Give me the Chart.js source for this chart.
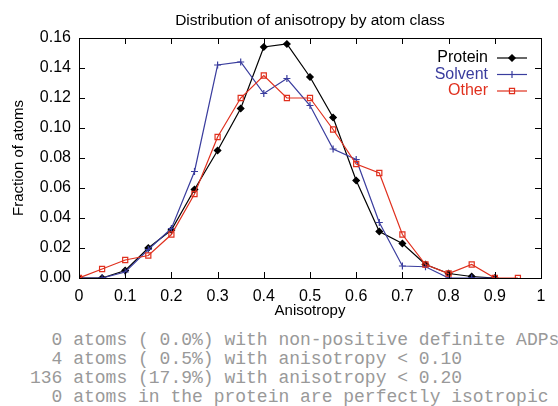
<!DOCTYPE html>
<html>
<head>
<meta charset="utf-8">
<script src="https://cdn.jsdelivr.net/npm/chart.js@4"></script>
<style>
  body { margin: 0; background: #fff; }
  #wrap { position: relative; width: 558px; height: 406px; }
  #box { position: absolute; left: 0; top: 0; width: 558px; height: 320px; }
  #summary {
    position: absolute; left: 30px; top: 331px; margin: 0;
    font-family: "Liberation Mono", "DejaVu Sans Mono", monospace;
    font-size: 18px; line-height: 19px; color: #999999;
  }
</style>
</head>
<body>
<div id="wrap">
  <div id="box"><canvas id="myChart"></canvas></div>
  <pre id="summary"></pre>
</div>
<script>
// anisotropy bins
var bins = [0, 0.05, 0.1, 0.15, 0.2, 0.25, 0.3, 0.35, 0.4, 0.45,
            0.5, 0.55, 0.6, 0.65, 0.7, 0.75, 0.8, 0.85, 0.9, 0.95];
var Protein = [0, 0, 0.005, 0.020, 0.032, 0.059, 0.085, 0.113, 0.154, 0.156,
               0.134, 0.107, 0.065, 0.031, 0.023, 0.009, 0.003, 0.001, 0];
var Solvent = [0, 0, 0.004, 0.019, 0.033, 0.071, 0.142, 0.144, 0.123, 0.133,
               0.115, 0.086, 0.079, 0.037, 0.008, 0.0075, 0, 0, 0];
var Other = [0, 0.006, 0.012, 0.015, 0.029, 0.056, 0.094, 0.120, 0.135, 0.120,
             0.120, 0.099, 0.076, 0.070, 0.029, 0.009, 0.003, 0.009, 0, 0];
var xTicks = [0, 0.1, 0.2, 0.3, 0.4, 0.5, 0.6, 0.7, 0.8, 0.9, 1];
var yTicks = [0, 0.02, 0.04, 0.06, 0.08, 0.10, 0.12, 0.14, 0.16];
var summaryLines = [
  "  0 atoms ( 0.0%) with non-positive definite ADPs",
  "  4 atoms ( 0.5%) with anisotropy < 0.10",
  "136 atoms (17.9%) with anisotropy < 0.20",
  "  0 atoms in the protein are perfectly isotropic"
];
document.getElementById("summary").textContent = summaryLines.join("\n");

function pts(vals) {
  return vals.map(function (v, i) { return { x: bins[i], y: v }; });
}

var sans = "'Liberation Sans', Arial, sans-serif";

var series = [
  { label: "Protein", data: Protein, color: "#000000", style: "rectRot", radius: 3.2, fill: "#000000" },
  { label: "Solvent", data: Solvent, color: "#3a3d9e", style: "cross", radius: 3.5, fill: "#3a3d9e" },
  { label: "Other", data: Other, color: "#e0301e", style: "rect", radius: 3.6, fill: "rgba(0,0,0,0)" }
];

// gnuplot-like frame, inward ticks, title and legend
var framePlugin = {
  id: "frame",
  afterDatasetsDraw: function (chart) {
    var ctx = chart.ctx, a = chart.chartArea;
    var xs = chart.scales.x, ys = chart.scales.y;
    ctx.save();
    ctx.strokeStyle = "#000";
    ctx.lineWidth = 1;
    ctx.strokeRect(a.left + 0.5, a.top + 0.5, a.right - a.left, a.bottom - a.top);
    ctx.beginPath();
    xTicks.forEach(function (t) {
      var px = Math.round(xs.getPixelForValue(t)) + 0.5;
      ctx.moveTo(px, a.bottom); ctx.lineTo(px, a.bottom - 6);
      ctx.moveTo(px, a.top); ctx.lineTo(px, a.top + 6);
    });
    yTicks.forEach(function (t) {
      var py = Math.round(ys.getPixelForValue(t)) + 0.5;
      ctx.moveTo(a.left, py); ctx.lineTo(a.left + 6, py);
      ctx.moveTo(a.right, py); ctx.lineTo(a.right - 6, py);
    });
    ctx.stroke();

    ctx.fillStyle = "#000";
    ctx.font = "15.5px " + sans;
    ctx.textAlign = "center";
    ctx.textBaseline = "middle";
    ctx.fillText("Distribution of anisotropy by atom class", (a.left + a.right) / 2, 21);

    ctx.font = "16px " + sans;
    ctx.textAlign = "right";
    series.forEach(function (s, i) {
      var y = 58 + i * 16.5;
      ctx.fillStyle = s.color;
      ctx.fillText(s.label, 488, y);
      ctx.strokeStyle = s.color;
      ctx.lineWidth = 1.2;
      ctx.beginPath();
      ctx.moveTo(497, y); ctx.lineTo(527, y);
      ctx.stroke();
      ctx.fillStyle = s.fill;
      Chart.helpers.drawPoint(ctx, { pointStyle: s.style, radius: s.radius, borderWidth: 1.2, rotation: 0 }, 512, y);
      if (s.style !== "rect") ctx.fill();
    });
    ctx.restore();
  }
};

var ctx = document.getElementById("myChart");
var myChart = new Chart(ctx, {
  type: "line",
  data: {
    datasets: series.map(function (s, i) {
      return {
        label: s.label,
        data: pts(s.data),
        borderColor: s.color,
        backgroundColor: s.fill,
        pointBorderColor: s.color,
        pointBackgroundColor: s.fill,
        pointStyle: s.style,
        pointRadius: s.radius,
        pointBorderWidth: 1.2,
        borderWidth: 1.2,
        tension: 0,
        order: 2 - i
      };
    })
  },
  plugins: [framePlugin],
  options: {
    responsive: true,
    maintainAspectRatio: false,
    animation: false,
    layout: { padding: { left: 0, right: 17, top: 38, bottom: 0 } },
    plugins: { legend: { display: false }, tooltip: { enabled: false } },
    scales: {
      x: {
        type: "linear", min: 0, max: 1,
        afterBuildTicks: function (sc) { sc.ticks = xTicks.map(function (v) { return { value: v }; }); },
        afterFit: function (sc) { sc.height = 42; },
        grid: { display: false, drawTicks: false },
        border: { display: false },
        ticks: {
          padding: 9, color: "#000", font: { family: sans, size: 16 },
          maxRotation: 0, autoSkip: false,
          callback: function (v) { return String(Math.round(v * 10) / 10); }
        },
        title: { display: true, text: "Anisotropy", color: "#000", font: { family: sans, size: 15 }, padding: 0 }
      },
      y: {
        type: "linear", min: 0, max: 0.16,
        afterBuildTicks: function (sc) { sc.ticks = yTicks.map(function (v) { return { value: v }; }); },
        afterFit: function (sc) { sc.width = 79; },
        grid: { display: false, drawTicks: false },
        border: { display: false },
        ticks: {
          padding: 8, color: "#000", font: { family: sans, size: 16 },
          callback: function (v) { return v.toFixed(2); }
        },
        title: { display: true, text: "Fraction of atoms", color: "#000", font: { family: sans, size: 15 }, padding: { top: 10, bottom: 0 } }
      }
    }
  }
});
</script>
</body>
</html>
